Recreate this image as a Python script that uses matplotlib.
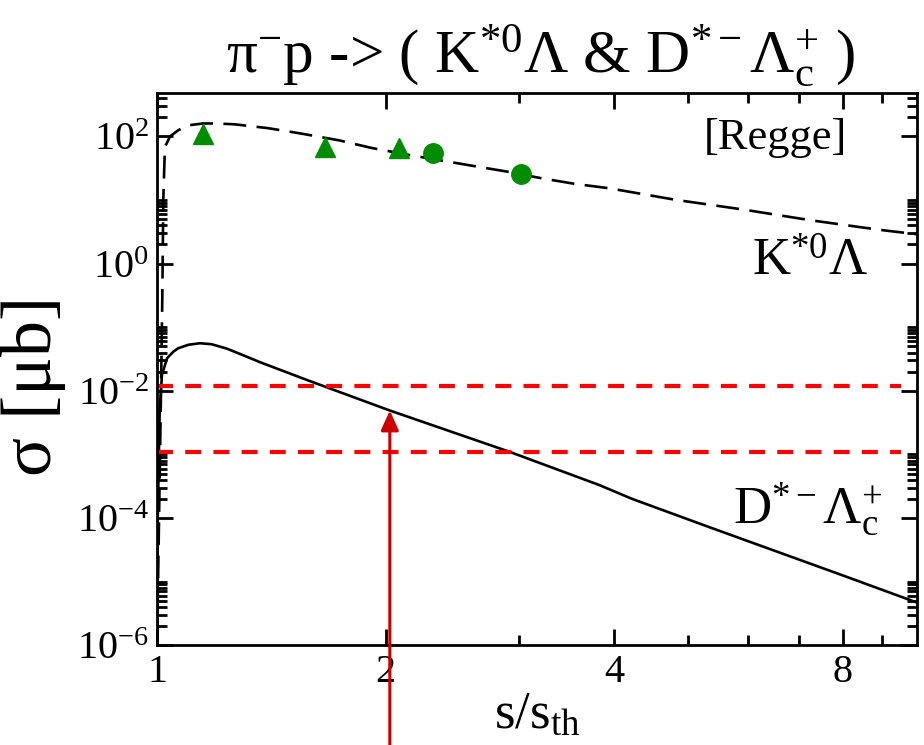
import numpy as np
import matplotlib
matplotlib.use("Agg")
import matplotlib.pyplot as plt
from matplotlib.ticker import FixedLocator, NullFormatter

plt.rcParams['font.family'] = ['Liberation Serif', 'DejaVu Serif']
plt.rcParams['mathtext.fontset'] = 'custom'
plt.rcParams['mathtext.rm'] = 'Liberation Serif'
plt.rcParams['mathtext.it'] = 'Liberation Serif:italic'
plt.rcParams['mathtext.bf'] = 'Liberation Serif:bold'
plt.rcParams['lines.scale_dashes'] = False

# --- Regge model curves (s/s_th, sigma in microbarn) ---
x_kstar = [1.0, 1.012, 1.016, 1.019, 1.024, 1.04, 1.066, 1.10, 1.15, 1.20, 1.266,
           1.40, 1.541, 1.735, 1.911, 2.118, 2.355, 2.60, 2.894, 3.207, 3.544,
           3.94, 4.81, 5.93, 7.26, 8.92, 10.0]
sig_kstar = [1e-6, 1e-2, 0.3, 10.0, 68.0, 100.0, 125.0, 150.0, 160.0, 160.0, 155.0,
             135.0, 112.0, 87.0, 66.4, 52.6, 42.3, 34.6, 27.9, 22.0, 18.0,
             15.3, 10.1, 7.05, 4.8, 3.41, 2.9]

x_dstar = [1.0, 1.002, 1.008, 1.015, 1.031, 1.05, 1.066, 1.10, 1.139, 1.18, 1.236, 1.30,
           1.366, 1.575, 2.025, 2.91, 3.82, 4.22, 5.33, 7.98, 10.0]
sig_dstar = [1e-6, 1e-4, 5e-3, 1.8e-2, 3.26e-2, 4.1e-2, 4.67e-2, 5.3e-2, 5.6e-2, 5.4e-2, 4.6e-2, 3.6e-2,
             2.82e-2, 1.48e-2, 4.9e-3, 1.1e-3, 3.3e-4, 2.0e-4, 7.2e-5, 1.26e-5, 4.7e-6]

# --- data points for K*0 Lambda ---
x_tri = [1.149, 1.662, 2.081]
sig_tri = [108.0, 68.4, 66.9]
x_circ = [2.31, 3.016]
sig_circ = [54.5, 26.1]

# --- horizontal reference levels and marker arrow ---
ref_levels = [1.2e-2, 1.1e-3]
x_arrow = 2.025
sig_arrow = 4.9e-3

fig = plt.figure(figsize=(9.24, 7.45), dpi=100)
ax = fig.add_axes([0.170, 0.134, 0.822, 0.741])
ax.set_xscale('log')
ax.set_yscale('log')

ax.plot(x_kstar, sig_kstar, color='black', lw=1.9, dashes=(16.5, 7.5))
ax.plot(x_dstar, sig_dstar, color='black', lw=1.9)
ax.plot(x_tri, sig_tri, '^', color='#008c00', ms=14, mec='#008c00')
ax.plot(x_circ, sig_circ, 'o', color='#008c00', ms=14, mec='#008c00')

for lev in ref_levels:
    ax.plot([1.0, 9.55], [lev, lev], color='#ff0000', lw=3.0, dashes=(11.5, 8.8))

ax.annotate('', xy=(x_arrow, sig_arrow), xycoords='data',
            xytext=(x_arrow, -0.01), textcoords=('data', 'figure fraction'),
            arrowprops=dict(arrowstyle='-|>,head_length=0.6,head_width=0.27',
                            color='#cc0000', lw=2.2, mutation_scale=20,
                            shrinkA=0, shrinkB=0),
            annotation_clip=False)

ax.set_xlim(1.0, 10.0)
ax.set_ylim(1e-6, 480)

# x ticks
ax.xaxis.set_major_locator(FixedLocator([1, 2, 4, 8]))
ax.xaxis.set_minor_locator(FixedLocator([3, 5, 6, 7, 9]))
ax.set_xticklabels(['1', '2', '4', '8'])
ax.xaxis.set_minor_formatter(NullFormatter())

# y ticks: labelled every two decades, minor ticks 2..10 times each major
ymaj = [1e-6, 1e-4, 1e-2, 1e0, 1e2]
ymin = [k * m for m in ymaj for k in range(2, 11)]
ax.yaxis.set_major_locator(FixedLocator(ymaj))
ax.yaxis.set_minor_locator(FixedLocator(ymin))
ax.set_yticklabels([r'$10^{%d}$' % e for e in [-6, -4, -2, 0, 2]])
ax.yaxis.set_minor_formatter(NullFormatter())

ax.tick_params(which='both', direction='in', top=True, right=True, width=2.0,
               labelsize=29, pad=6)
ax.tick_params(which='major', length=11.5)
ax.tick_params(which='minor', length=7)
for sp in ax.spines.values():
    sp.set_linewidth(2.0)

ax.set_xlabel(r's/s$_{\mathrm{th}}$', fontsize=38, labelpad=0)
ax.set_ylabel(r'σ [μb]', fontsize=52, labelpad=0)
ax.yaxis.set_label_coords(-0.12, 0.47)

fig.text(0.585, 0.903, r'π$^{-}$p -> ( K$^{*0}$Λ & D$^{*-}$Λ$_{\mathrm{c}}^{+}$ )',
         fontsize=44, ha='center', va='baseline')

ax.text(0.917, 0.80, '[Regge]', transform=fig.transFigure, fontsize=32,
        ha='right', va='baseline')
ax.text(0.94, 0.63, r'K$^{*0}$Λ', transform=fig.transFigure, fontsize=38,
        ha='right', va='baseline')
ax.text(0.955, 0.297, r'D$^{*-}$Λ$_{\mathrm{c}}^{+}$', transform=fig.transFigure, fontsize=38,
        ha='right', va='baseline')

fig.savefig('out.png', dpi=100)
